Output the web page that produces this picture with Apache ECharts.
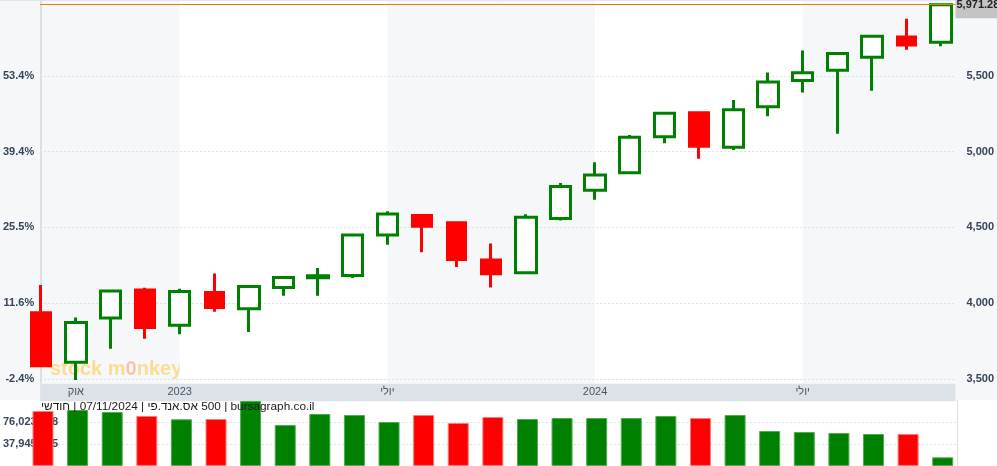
<!DOCTYPE html>
<html><head><meta charset="utf-8">
<script src="https://cdn.jsdelivr.net/npm/echarts@6/dist/echarts.min.js"></script>
<style>html,body{margin:0;padding:0;background:#f6f7f9}#c{width:997px;height:466px}</style>
</head><body><div id="c"></div>
<script>
const months = ['2022-09','2022-10','2022-11','2022-12','2023-01','2023-02','2023-03','2023-04','2023-05','2023-06','2023-07','2023-08','2023-09','2023-10','2023-11','2023-12','2024-01','2024-02','2024-03','2024-04','2024-05','2024-06','2024-07','2024-08','2024-09','2024-10','2024-11'];
const openVals  = [3936.73,3609.78,3901.79,4087.14,3853.29,4070.07,3963.34,4102.20,4166.79,4183.03,4450.48,4578.83,4530.60,4284.52,4201.27,4559.43,4745.20,4861.11,5098.51,5257.97,5029.03,5297.15,5471.08,5537.84,5623.89,5757.73,5723.22];
const closeVals = [3585.62,3871.98,4080.11,3839.50,4076.60,3970.15,4109.31,4169.48,4179.83,4450.38,4588.96,4507.66,4288.05,4193.80,4567.80,4769.83,4845.65,5096.27,5254.35,5035.69,5277.51,5460.48,5522.30,5648.40,5762.48,5705.45,5971.28];
const lowVals   = [3584.13,3491.58,3698.15,3764.49,3794.33,3943.08,3808.86,4048.28,4048.28,4166.15,4385.05,4335.31,4238.63,4103.78,4197.74,4546.50,4682.11,4853.52,5056.82,4953.56,5011.05,5234.32,5390.95,5119.26,5402.62,5674.00,5696.51];
const highVals  = [4119.28,3905.42,4080.11,4100.96,4094.21,4195.44,4110.75,4170.06,4231.10,4458.48,4607.07,4584.62,4541.25,4393.57,4587.64,4793.30,4931.09,5111.06,5264.85,5263.95,5341.88,5523.64,5669.67,5651.62,5767.37,5878.46,5973.00];
const volumeVals = [95100000,96800000,93300000,86400000,80700000,81200000,112400000,70800000,89900000,88100000,76000000,88100000,74300000,84700000,81200000,82900000,82900000,82900000,86400000,82900000,88100000,60400000,58700000,57000000,55300000,55300000,14900000];
const priceTicks = [3500,4000,4500,5000,5500];
const priceTickLabels = ['3,500','4,000','4,500','5,000','5,500'];
const pctTickLabels = ['-2.4%','11.6%','25.5%','39.4%','53.4%'];
const monthTickIdx = [1,4,10,16,22];
const monthTickLabels = ['אוק','2023','יולי','2024','יולי'];
const volTickValues = [37945125,76023438];
const volTickLabels = ['37,945,125','76,023,438'];
const lastClose = 5971.28;
const lastCloseLabel = '5,971.28';
const titleParts = ['חודשי', ' | 07/11/2024 | ', 'אס.אנד.פי', ' 500 | bursagraph.co.il'];
const whiteBands = [['2023-01','2023-07'],['2024-01','2024-07']];

const upData = [], downData = [], volData = [];
months.forEach((m, i) => {
  const item = [i, openVals[i], closeVals[i], lowVals[i], highVals[i]];
  const up = closeVals[i] >= openVals[i];
  (up ? upData : downData).push(item);
  volData.push({ value: [i, volumeVals[i]], itemStyle: up ? { color: '#008000', borderColor: '#4cae4c' } : { color: '#ff0000', borderColor: '#ff7b7b' } });
});
const volStep = volTickValues[1] - volTickValues[0];
const FONT = 'Liberation Sans, Arial, sans-serif';
const lblColor = '#36445a';
const titleRich = titleParts.map(p => '{t|' + p + '}').join('');

const chart = echarts.init(document.getElementById('c'), null, { renderer: 'canvas' });
chart.setOption({
  animation: false,
  backgroundColor: '#f6f7f9',
  title: { text: titleRich, left: 41, top: 401, padding: 0,
    textStyle: { fontSize: 11.8, fontWeight: 'normal', color: '#1a1a1a', fontFamily: FONT,
      rich: { t: { fontSize: 11.8, color: '#1a1a1a', fontFamily: FONT } } } },
  graphic: [
    { type: 'rect', z: -10, shape: { x: 0, y: 400, width: 997, height: 66 }, style: { fill: '#ffffff' } },
    { type: 'rect', z: -10, shape: { x: 0, y: 0, width: 997, height: 1 }, style: { fill: '#e2e5ea' } },
    { type: 'text', z: 1, left: 50, top: 359,
      style: { text: '{y|st}{y|o}{y|ck m}{p|0}{y|nkey}', font: 'bold 20px ' + FONT,
        rich: { y: { fill: '#fbdc94', font: 'bold 20px ' + FONT }, p: { fill: '#f8c6aa', font: 'bold 20px ' + FONT } } } }
  ],
  grid: [
    { left: 40, right: 40, top: 1, bottom: 82.7 },
    { left: 40, right: 40, top: 400, bottom: 0 }
  ],
  xAxis: [
    { type: 'value', gridIndex: 0, min: -0.0288, max: 26.413, position: 'bottom', offset: 8.7,
      axisLine: { show: true, lineStyle: { color: '#dde1e8', width: 17.4, cap: 'butt' } },
      axisTick: { show: false }, splitLine: { show: false },
      axisLabel: { customValues: monthTickIdx, margin: -6, color: '#4b5563', fontSize: 11, fontFamily: FONT,
        formatter: v => { const k = monthTickIdx.indexOf(Math.round(v)); return k >= 0 ? monthTickLabels[k] : ''; } } },
    { type: 'value', gridIndex: 1, min: -0.0288, max: 26.413, show: false }
  ],
  yAxis: [
    { type: 'value', gridIndex: 0, position: 'right', min: 3470, max: 5996, z: 1.5,
      axisLine: { show: true, lineStyle: { color: '#dcdfe4' } },
      axisTick: { show: false, customValues: priceTicks },
      axisLabel: { customValues: priceTicks, margin: 11, color: lblColor, fontSize: 11, fontWeight: 'bold', fontFamily: FONT,
        formatter: v => { const k = priceTicks.indexOf(v); return k >= 0 ? priceTickLabels[k] : ''; } },
      splitLine: { show: true, lineStyle: { color: '#dde0e6', type: [2, 2] } } },
    { type: 'value', gridIndex: 0, position: 'left', min: 3470, max: 5996, z: 1.5,
      axisLine: { show: true, lineStyle: { color: '#dcdfe4' } },
      axisTick: { show: false, customValues: priceTicks },
      axisLabel: { customValues: priceTicks, margin: 6, color: lblColor, fontSize: 11, fontWeight: 'bold', fontFamily: FONT,
        formatter: v => { const k = priceTicks.indexOf(v); return k >= 0 ? pctTickLabels[k] : ''; } },
      splitLine: { show: false } },
    { type: 'value', gridIndex: 1, position: 'left', offset: 39,
      min: volTickValues[0] - volStep, max: volTickValues[1] + volStep, interval: volStep,
      axisLine: { show: false }, axisTick: { show: false },
      axisLabel: { inside: true, margin: 0, showMinLabel: false, showMaxLabel: false, color: lblColor, fontSize: 11, fontWeight: 'bold', fontFamily: FONT,
        formatter: v => { let best = -1, d = 1e9; volTickValues.forEach((t, k) => { if (Math.abs(t - v) < d) { d = Math.abs(t - v); best = k; } }); return d < 10 ? volTickLabels[best] : ''; } },
      splitLine: { show: true, showMinLine: false, showMaxLine: false, lineStyle: { color: '#dde0e6', type: [2, 2] } } },
    { type: 'value', gridIndex: 1, position: 'right', min: 0, max: 1,
      axisLine: { show: true, lineStyle: { color: '#dcdfe4' } }, axisTick: { show: false }, axisLabel: { show: false }, splitLine: { show: false } }
  ],
  series: [
    { type: 'candlestick', xAxisIndex: 0, yAxisIndex: 0, clip: false, barWidth: 21, data: upData,
      itemStyle: { color: '#ffffff', color0: '#ffffff', borderColor: '#008000', borderColor0: '#008000', borderWidth: 3 },
      markArea: { silent: true, itemStyle: { color: '#ffffff' },
        data: whiteBands.map(b => [{ xAxis: months.indexOf(b[0]) }, { xAxis: months.indexOf(b[1]) }]) },
      markLine: { silent: true, symbol: 'none', animation: false,
        lineStyle: { color: '#e07b12', width: 1, type: 'solid' },
        label: { show: true, position: 'end', distance: 0, formatter: lastCloseLabel, backgroundColor: '#c4c4c4',
          color: '#222', fontWeight: 'bold', fontSize: 11, fontFamily: FONT, padding: [15, 3, 1, 1] },
        data: [{ yAxis: lastClose }] } },
    { type: 'candlestick', xAxisIndex: 0, yAxisIndex: 0, clip: false, barWidth: 19, data: downData,
      itemStyle: { color: '#ff0000', color0: '#ff0000', borderColor: '#ff0000', borderColor0: '#ff0000', borderWidth: 3 } },
    { type: 'bar', xAxisIndex: 1, yAxisIndex: 2, clip: false, barWidth: 21, data: volData,
      itemStyle: { borderWidth: 1 } }
  ]
});
</script></body></html>
